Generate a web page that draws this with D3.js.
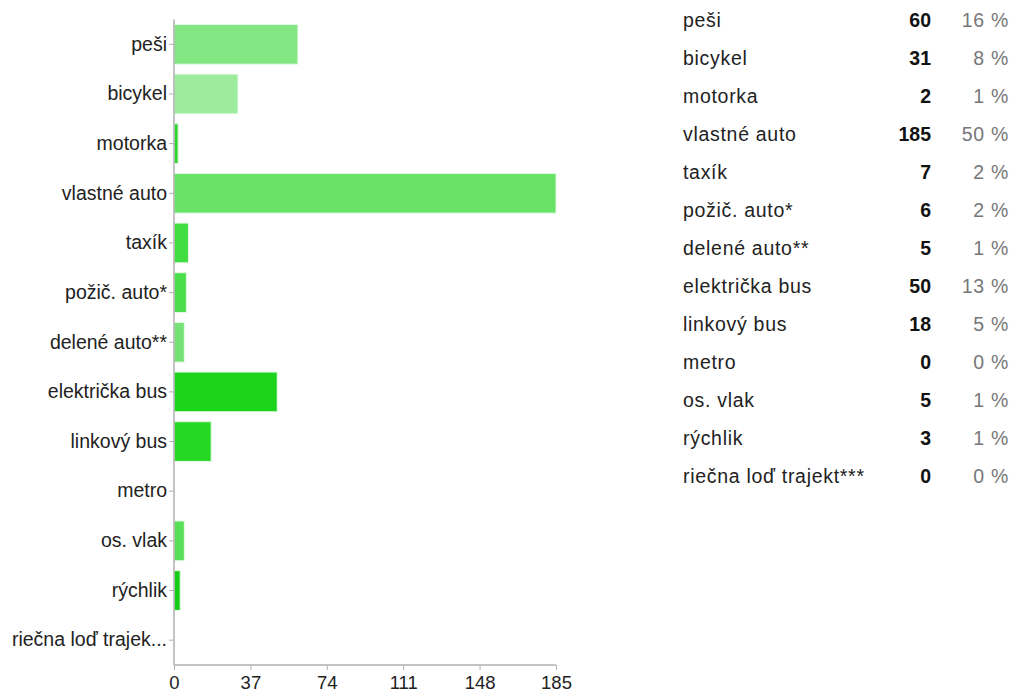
<!DOCTYPE html>
<html>
<head>
<meta charset="utf-8">
<script src="https://cdn.jsdelivr.net/npm/d3@7"></script>
<style>
  html, body { margin: 0; padding: 0; background: #fff; }
  svg { display: block; }
  text { font-family: Arial, "Liberation Sans", Helvetica, sans-serif; }
</style>
</head>
<body>
<svg id="chart" width="1019" height="693"></svg>
<script>
// Survey answers: how respondents travel
const categories = ["peši", "bicykel", "motorka", "vlastné auto", "taxík", "požič. auto*",
  "delené auto**", "električka bus", "linkový bus", "metro", "os. vlak", "rýchlik",
  "riečna loď trajekt***"];
const axisLabels = ["peši", "bicykel", "motorka", "vlastné auto", "taxík", "požič. auto*",
  "delené auto**", "električka bus", "linkový bus", "metro", "os. vlak", "rýchlik",
  "riečna loď trajek..."];
const counts = [60, 31, 2, 185, 7, 6, 5, 50, 18, 0, 5, 3, 0];
const barColors = ["#82e682", "#9deb9d", "#2ed52e", "#68e368", "#40dc40", "#4cdd4c",
  "#74e274", "#1cd41c", "#24d824", "#33d633", "#58df58", "#14cc14", "#33d633"];
const xTicks = [0, 37, 74, 111, 148, 185];

const svg = d3.select("#chart");
const total = d3.sum(counts);

// ---- bar chart ----
const x = d3.scaleLinear().domain([0, 185]).range([174, 556]);
const y = d3.scaleBand().domain(d3.range(categories.length))
  .range([19.5, 665]).paddingInner(0.2).paddingOuter(0.1);

svg.append("g").selectAll("rect")
  .data(counts)
  .join("rect")
  .attr("x", x(0))
  .attr("y", (d, i) => y(i))
  .attr("width", d => Math.max(0, x(d) - x(0)))
  .attr("height", y.bandwidth())
  .attr("fill", (d, i) => barColors[i])
  .attr("stroke", (d, i) => d > 0 ? "#e6f9e6" : "none")
  .attr("stroke-width", 1);

const yAxis = d3.axisLeft(y).tickSize(5).tickPadding(2)
  .tickFormat(i => axisLabels[i]);
const gy = svg.append("g").attr("transform", `translate(${x(0)},0)`).call(yAxis);
gy.select(".domain").attr("stroke", "#b0b0b0").attr("stroke-width", 1.5)
  .attr("d", "M0,19.5V665");
gy.selectAll(".tick line").attr("stroke", "#b0b0b0");
gy.selectAll(".tick text").attr("fill", "#222").style("font-size", "19.5px")
  .style("font-family", "Arial, 'Liberation Sans', sans-serif");

const xAxis = d3.axisBottom(x).tickValues(xTicks).tickSize(5).tickPadding(6)
  .tickFormat(d3.format("d"));
const gx = svg.append("g").attr("transform", "translate(0,665)").call(xAxis);
gx.select(".domain").attr("stroke", "#b0b0b0").attr("stroke-width", 1.5)
  .attr("d", "M174,0H556");
gx.selectAll(".tick line").attr("stroke", "#b0b0b0");
gx.selectAll(".tick text").attr("fill", "#222").style("font-size", "18.5px")
  .style("font-family", "Arial, 'Liberation Sans', sans-serif");

// ---- summary table ----
const rowY = d3.scaleBand().domain(d3.range(categories.length))
  .range([1, 1 + 38.05 * categories.length]);
const table = svg.append("g").style("font-size", "19.5px");
const rows = table.selectAll("g.row")
  .data(categories)
  .join("g")
  .attr("class", "row")
  .attr("transform", (d, i) => `translate(0,${rowY(i) + rowY.bandwidth() / 2})`);

rows.append("text")
  .attr("x", 683).attr("dy", "0.35em")
  .attr("fill", "#222").style("letter-spacing", "0.7px")
  .text(d => d);
rows.append("text")
  .attr("x", 931).attr("dy", "0.35em").attr("text-anchor", "end")
  .attr("fill", "#111").attr("font-weight", "bold")
  .text((d, i) => counts[i]);
rows.append("text")
  .attr("x", 1009).attr("dy", "0.35em").attr("text-anchor", "end")
  .attr("fill", "#777").style("letter-spacing", "0.7px")
  .text((d, i) => Math.round(counts[i] / total * 100) + " %");
</script>
</body>
</html>
